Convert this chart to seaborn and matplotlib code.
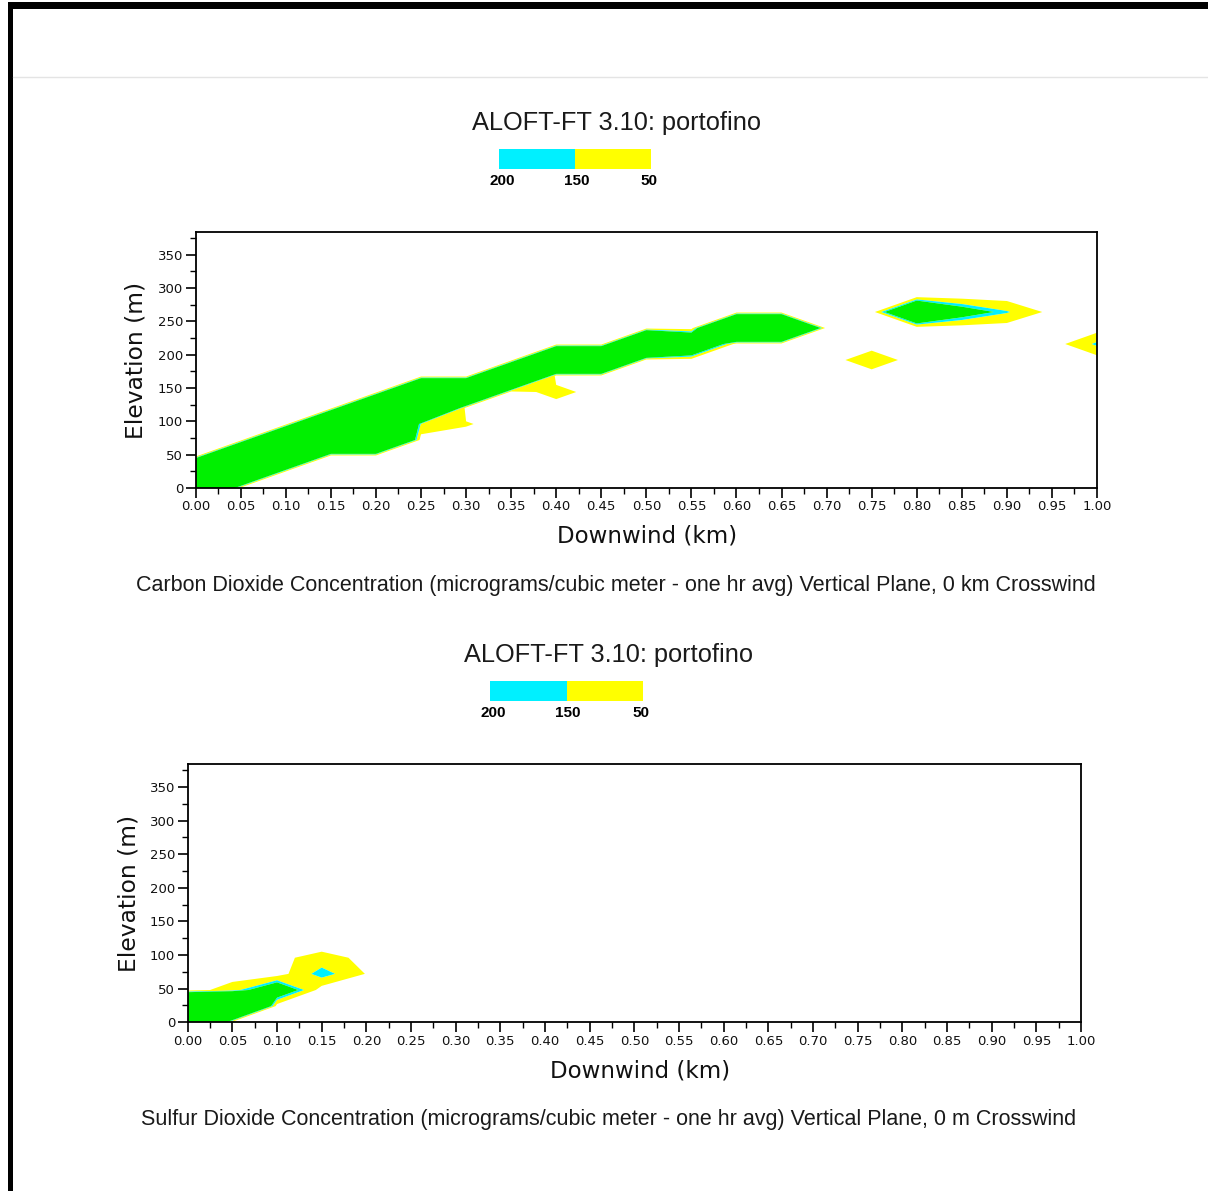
import numpy as np
import pandas as pd
import matplotlib
matplotlib.use("Agg")
import matplotlib.pyplot as plt
from matplotlib.colors import ListedColormap
from matplotlib.patches import Rectangle
from matplotlib.lines import Line2D
from matplotlib.ticker import MultipleLocator, FormatStrFormatter
import seaborn as sns

# ---------------- data ----------------
downwind_km = [0.00, 0.05, 0.10, 0.15, 0.20, 0.25, 0.30, 0.35, 0.40, 0.45, 0.50,
               0.55, 0.60, 0.65, 0.70, 0.75, 0.80, 0.85, 0.90, 0.95, 1.00]
elevation_m = [0, 24, 48, 72, 96, 120, 144, 168, 192, 216, 240, 264, 288, 312, 336, 360, 384]

# concentration grids (rows = elevation, columns = downwind)
co2_conc = [
    [1500,    0,    0,    0,    0,    0,    0,    0,    0,    0,    0,   0,    0,    0, 0,   0,   0,   0,   0,  0,   0],
    [1500, 1500,    0,    0,    0,    0,    0,    0,    0,    0,    0,   0,    0,    0, 0,   0,   0,   0,   0,  0,   0],
    [   0, 1500, 1500,    0,    0,    0,    0,    0,    0,    0,    0,   0,    0,    0, 0,   0,   0,   0,   0,  0,   0],
    [   0,    0, 1500, 1500, 1500,    0,    0,    0,    0,    0,    0,   0,    0,    0, 0,   0,   0,   0,   0,  0,   0],
    [   0,    0,    0, 1500, 1500,  140,   60,    0,    0,    0,    0,   0,    0,    0, 0,   0,   0,   0,   0,  0,   0],
    [   0,    0,    0,    0, 1500, 1500,    0,    0,    0,    0,    0,   0,    0,    0, 0,   0,   0,   0,   0,  0,   0],
    [   0,    0,    0,    0,    0, 1500, 1500,    0,   90,    0,    0,   0,    0,    0, 0,   0,   0,   0,   0,  0,   0],
    [   0,    0,    0,    0,    0,    0,    0, 1500,    0,    0,    0,   0,    0,    0, 0,   0,   0,   0,   0,  0,   0],
    [   0,    0,    0,    0,    0,    0,    0,    0, 1500, 1500,    0,   0,    0,    0, 0, 120,   0,   0,   0,  0,   0],
    [   0,    0,    0,    0,    0,    0,    0,    0,    0,    0, 1500, 700,    0,    0, 0,   0,   0,   0,   0,  0, 170],
    [   0,    0,    0,    0,    0,    0,    0,    0,    0,    0,    0,   0, 1500, 1500, 0,   0,   0,   0,   0,  0,   0],
    [   0,    0,    0,    0,    0,    0,    0,    0,    0,    0,    0,   0,    0,    0, 0,   0, 700, 300, 160, 20,   0],
    [   0,    0,    0,    0,    0,    0,    0,    0,    0,    0,    0,   0,    0,    0, 0,   0,   0,   0,   0,  0,   0],
    [   0,    0,    0,    0,    0,    0,    0,    0,    0,    0,    0,   0,    0,    0, 0,   0,   0,   0,   0,  0,   0],
    [   0,    0,    0,    0,    0,    0,    0,    0,    0,    0,    0,   0,    0,    0, 0,   0,   0,   0,   0,  0,   0],
    [   0,    0,    0,    0,    0,    0,    0,    0,    0,    0,    0,   0,    0,    0, 0,   0,   0,   0,   0,  0,   0],
    [   0,    0,    0,    0,    0,    0,    0,    0,    0,    0,    0,   0,    0,    0, 0,   0,   0,   0,   0,  0,   0],
]

so2_conc = [
    [1500,    0,   0,   0,  0, 0, 0, 0, 0, 0, 0, 0, 0, 0, 0, 0, 0, 0, 0, 0, 0],
    [1500, 1500,   0,   0,  0, 0, 0, 0, 0, 0, 0, 0, 0, 0, 0, 0, 0, 0, 0, 0, 0],
    [   0,  100, 380,   0,  0, 0, 0, 0, 0, 0, 0, 0, 0, 0, 0, 0, 0, 0, 0, 0, 0],
    [   0,    0,   0, 195, 45, 0, 0, 0, 0, 0, 0, 0, 0, 0, 0, 0, 0, 0, 0, 0, 0],
    [   0,    0,  30,  80, 30, 0, 0, 0, 0, 0, 0, 0, 0, 0, 0, 0, 0, 0, 0, 0, 0],
    [   0,    0,   0,   0,  0, 0, 0, 0, 0, 0, 0, 0, 0, 0, 0, 0, 0, 0, 0, 0, 0],
    [   0,    0,   0,   0,  0, 0, 0, 0, 0, 0, 0, 0, 0, 0, 0, 0, 0, 0, 0, 0, 0],
    [   0,    0,   0,   0,  0, 0, 0, 0, 0, 0, 0, 0, 0, 0, 0, 0, 0, 0, 0, 0, 0],
    [   0,    0,   0,   0,  0, 0, 0, 0, 0, 0, 0, 0, 0, 0, 0, 0, 0, 0, 0, 0, 0],
    [   0,    0,   0,   0,  0, 0, 0, 0, 0, 0, 0, 0, 0, 0, 0, 0, 0, 0, 0, 0, 0],
    [   0,    0,   0,   0,  0, 0, 0, 0, 0, 0, 0, 0, 0, 0, 0, 0, 0, 0, 0, 0, 0],
    [   0,    0,   0,   0,  0, 0, 0, 0, 0, 0, 0, 0, 0, 0, 0, 0, 0, 0, 0, 0, 0],
    [   0,    0,   0,   0,  0, 0, 0, 0, 0, 0, 0, 0, 0, 0, 0, 0, 0, 0, 0, 0, 0],
    [   0,    0,   0,   0,  0, 0, 0, 0, 0, 0, 0, 0, 0, 0, 0, 0, 0, 0, 0, 0, 0],
    [   0,    0,   0,   0,  0, 0, 0, 0, 0, 0, 0, 0, 0, 0, 0, 0, 0, 0, 0, 0, 0],
    [   0,    0,   0,   0,  0, 0, 0, 0, 0, 0, 0, 0, 0, 0, 0, 0, 0, 0, 0, 0, 0],
    [   0,    0,   0,   0,  0, 0, 0, 0, 0, 0, 0, 0, 0, 0, 0, 0, 0, 0, 0, 0, 0],
]

legend_labels = ["200", "150", "50"]
contour_levels = [50, 150, 200, 100000]

title_text = "ALOFT-FT 3.10: portofino"
captions = [
    "Carbon Dioxide Concentration (micrograms/cubic meter - one hr avg) Vertical Plane, 0 km Crosswind",
    "Sulfur Dioxide Concentration (micrograms/cubic meter - one hr avg) Vertical Plane, 0 m Crosswind",
]

# ---------------- style ----------------
YELLOW = "#ffff00"
CYAN = "#00f0ff"
GREEN = "#00f000"
fill_colors = [YELLOW, CYAN, GREEN]
legend_colors = [CYAN, YELLOW]

sns.set_theme(style="ticks")
plt.rcParams['font.family'] = ['DejaVu Sans']
plt.rcParams['axes.linewidth'] = 1.3

W, H = 1208, 1191
fig = plt.figure(figsize=(W / 100, H / 100), dpi=100)
fig.patch.set_facecolor("white")

def fx(px):
    return px / W

def fy(py):
    return 1 - py / H

# window frame
fig.add_artist(Rectangle((fx(8), fy(9)), 1 - fx(8), 7 / H, transform=fig.transFigure,
                         facecolor="black", edgecolor="none"))
fig.add_artist(Rectangle((fx(8), 0), 5 / W, fy(2), transform=fig.transFigure,
                         facecolor="black", edgecolor="none"))
fig.add_artist(Line2D([fx(13), 1], [fy(77), fy(77)], transform=fig.transFigure,
                      color="#e4e4e4", lw=1))

panels = [
    dict(Z=co2_conc, ax=(195.7, 232, 1097, 488), leg=(499, 149, 651, 169),
         title=(617, 123), cap=(616, 586), caption=captions[0], xlab_x=0.501),
    dict(Z=so2_conc, ax=(187.7, 764, 1081, 1022.3), leg=(490, 681, 643, 701),
         title=(609, 655), cap=(609, 1120), caption=captions[1], xlab_x=0.506),
]

for p in panels:
    l, t, r, b = p["ax"]
    ax = fig.add_axes([fx(l), fy(b), (r - l) / W, (b - t) / H])
    ax.set_facecolor("white")
    ax.contourf(downwind_km, elevation_m, np.array(p["Z"], dtype=float),
                levels=contour_levels, colors=fill_colors, antialiased=True)
    ax.set_xlim(0, 1.0)
    ax.set_ylim(0, 384)
    ax.xaxis.set_major_locator(MultipleLocator(0.05))
    ax.xaxis.set_minor_locator(MultipleLocator(0.025))
    ax.xaxis.set_major_formatter(FormatStrFormatter("%.2f"))
    ax.yaxis.set_minor_locator(MultipleLocator(25))
    ax.set_yticks([0, 50, 100, 150, 200, 250, 300, 350])
    ax.tick_params(which="major", direction="out", length=7, width=1.2, color="black",
                   labelsize=9.5, labelcolor="#111111", pad=2)
    ax.tick_params(which="minor", direction="out", length=4, width=1.0, color="black")
    for s in ax.spines.values():
        s.set_visible(True)
        s.set_color("black")
    ax.set_xlabel("Downwind (km)", fontsize=16.5, color="#111111")
    ax.xaxis.label.set_va("center")
    ax.xaxis.set_label_coords(p["xlab_x"], -0.188)
    ax.set_ylabel("Elevation (m)", fontsize=16.8, color="#111111")
    ax.yaxis.label.set_va("center")
    ax.yaxis.set_label_coords(-0.066, 0.5)

    # colour legend
    ll, lt, lr, lb = p["leg"]
    lax = fig.add_axes([fx(ll), fy(lb), (lr - ll) / W, (lb - lt) / H])
    sns.heatmap(pd.DataFrame([[0, 1]]), cmap=ListedColormap(legend_colors), cbar=False,
                ax=lax, xticklabels=False, yticklabels=False, vmin=0, vmax=1)
    lax.set_xlabel("")
    lax.set_ylabel("")
    for xpos, lab in zip([0.02, 0.51, 0.985], legend_labels):
        lax.text(xpos, -0.6, lab, transform=lax.transAxes, ha="center", va="center",
                 fontsize=11, fontweight="bold", family=["Liberation Sans", "DejaVu Sans"],
                 color="black")

    fig.text(fx(p["title"][0]), fy(p["title"][1]), title_text, ha="center", va="center",
             fontsize=18.3, family=["Liberation Sans", "DejaVu Sans"], color="#1a1a1a")
    fig.text(fx(p["cap"][0]), fy(p["cap"][1]), p["caption"], ha="center", va="center",
             fontsize=15.5, family=["Liberation Sans", "DejaVu Sans"], color="#1a1a1a")

fig.savefig("out.png", dpi=100, facecolor="white")
